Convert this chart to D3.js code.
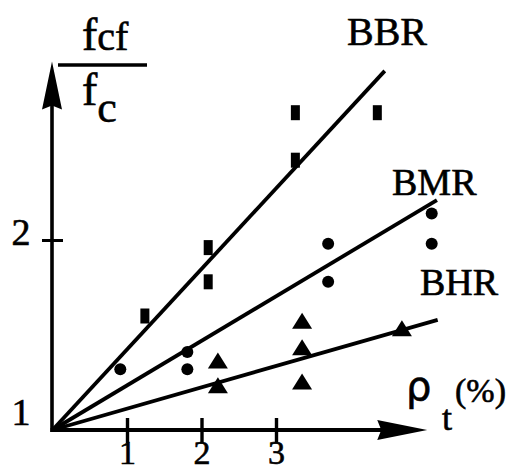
<!DOCTYPE html>
<html>
<head>
<meta charset="utf-8">
<script src="https://cdn.jsdelivr.net/npm/d3@7"></script>
<style>
  html, body { margin: 0; padding: 0; background: #fff; }
  svg text { font-family: "Liberation Serif", "DejaVu Serif", serif; fill: #000; stroke: #000; stroke-width: 0.6px; }
</style>
</head>
<body>
<svg id="chart" width="514" height="472"></svg>
<script>
// Reinforcement ratio (%) vs. strength ratio f_cf / f_c for three beam series
const xTicks = [1, 2, 3];
const yTicks = [2];
const yLabels = [1, 2];

const bbrX = [1.24, 2.09, 2.09, 3.26, 3.26, 4.36];
const bbrY = [1.60, 1.96, 1.78, 2.67, 2.42, 2.67];

const bmrX = [0.91, 1.81, 1.81, 3.70, 3.70, 5.09, 5.09];
const bmrY = [1.32, 1.41, 1.32, 1.98, 1.78, 2.14, 1.98];

const bhrX = [2.22, 2.22, 3.35, 3.35, 3.35, 4.69];
const bhrY = [1.36, 1.23, 1.57, 1.43, 1.25, 1.53];

// fitted trend lines, from the origin (0, 1) to their end points
const fitBBR = [[0, 1], [4.46, 2.89]];
const fitBMR = [[0, 1], [5.16, 2.21]];
const fitBHR = [[0, 1], [5.17, 1.58]];

const svg = d3.select("#chart");

const x = d3.scaleLinear().domain([0, 3]).range([52.5, 276]);
const y = d3.scaleLinear().domain([1, 2]).range([430, 240]);

const xEnd = 5.03;   // x axis arrow tip
const yEnd = 2.94;   // y axis arrow tip

// axes
svg.append("line")
  .attr("x1", x(0) - 2).attr("y1", y(1)).attr("x2", x(xEnd) - 40).attr("y2", y(1))
  .attr("stroke", "#000").attr("stroke-width", 3.8);
svg.append("line")
  .attr("x1", x(0) - 0.5).attr("y1", y(1) + 2).attr("x2", x(0) - 0.5).attr("y2", y(yEnd) + 40)
  .attr("stroke", "#000").attr("stroke-width", 3.6);

// arrow heads
const ax = x(xEnd), ay = y(1);
svg.append("path")
  .attr("d", `M${ax},${ay} L${ax - 50},${ay - 10} L${ax - 46},${ay} L${ax - 50},${ay + 10} Z`)
  .attr("fill", "#000");
const bx = x(0) - 0.5, by = y(yEnd);
svg.append("path")
  .attr("d", `M${bx},${by} L${bx - 10},${by + 48} L${bx},${by + 44} L${bx + 10},${by + 48} Z`)
  .attr("fill", "#000");

// x ticks and labels
const xAxis = svg.append("g")
  .attr("transform", `translate(0,${y(1)})`)
  .call(d3.axisBottom(x).tickValues(xTicks).tickFormat(d3.format("d")).tickSize(0));
xAxis.select(".domain").remove();
xAxis.selectAll(".tick line")
  .attr("y1", -12).attr("y2", 13)
  .attr("stroke", "#000").attr("stroke-width", 3.4);
xAxis.selectAll(".tick text")
  .attr("y", 34).attr("dy", 0)
  .style("font-family", "'Liberation Serif', serif")
  .style("font-size", "34px").attr("fill", "#000")
  .style("stroke", "#000").style("stroke-width", "0.6px");

// y ticks and labels
const yAxis = svg.append("g")
  .attr("transform", `translate(${x(0) - 0.5},0)`)
  .call(d3.axisLeft(y).tickValues(yTicks).tickFormat(() => "").tickSize(0));
yAxis.select(".domain").remove();
yAxis.selectAll(".tick line")
  .attr("x1", -10).attr("x2", 11)
  .attr("stroke", "#000").attr("stroke-width", 3);

svg.selectAll("text.ylab")
  .data(yLabels)
  .join("text")
  .attr("class", "ylab")
  .attr("x", 21)
  .attr("y", d => y(d) + (d === 1 ? -5 : 5))
  .attr("text-anchor", "middle")
  .style("font-size", "38px")
  .text(d => d);

// trend lines
const line = d3.line().x(d => x(d[0])).y(d => y(d[1]));
[fitBBR, fitBMR, fitBHR].forEach(f => {
  svg.append("path").attr("d", line(f))
    .attr("fill", "none").attr("stroke", "#000").attr("stroke-width", 3.8);
});

// BBR: small upright rectangles
svg.selectAll("rect.bbr")
  .data(d3.zip(bbrX, bbrY))
  .join("rect")
  .attr("class", "bbr")
  .attr("x", d => x(d[0]) - 4.5).attr("y", d => y(d[1]) - 7.5)
  .attr("width", 9).attr("height", 15)
  .attr("fill", "#000");

// BMR: dots
svg.selectAll("circle.bmr")
  .data(d3.zip(bmrX, bmrY))
  .join("circle")
  .attr("class", "bmr")
  .attr("cx", d => x(d[0])).attr("cy", d => y(d[1]))
  .attr("r", 6)
  .attr("fill", "#000");

// BHR: triangles
svg.selectAll("path.bhr")
  .data(d3.zip(bhrX, bhrY))
  .join("path")
  .attr("class", "bhr")
  .attr("d", d => {
    const cx = x(d[0]), cy = y(d[1]);
    return `M${cx},${cy - 9} L${cx + 10},${cy + 7} L${cx - 10},${cy + 7} Z`;
  })
  .attr("fill", "#000");

// series labels
svg.append("text").attr("x", 347).attr("y", 45).style("font-size", "40px").text("BBR");
svg.append("text").attr("x", 392).attr("y", 195).style("font-size", "38px").text("BMR");
svg.append("text").attr("x", 420).attr("y", 295).style("font-size", "38px").text("BHR");

// y axis title: f_cf / f_c
const num = svg.append("text").attr("x", 82).attr("y", 50).style("font-size", "46px");
num.append("tspan").text("f");
num.append("tspan").style("font-size", "40px").text("cf");
svg.append("line")
  .attr("x1", 58).attr("x2", 147).attr("y1", 65).attr("y2", 65)
  .attr("stroke", "#000").attr("stroke-width", 3.4);
const den = svg.append("text").attr("x", 82).attr("y", 105).style("font-size", "46px");
den.append("tspan").text("f");
den.append("tspan").attr("dy", 17).style("font-size", "44px").text("c");

// x axis title: rho_t (%)
svg.append("text").attr("x", 406).attr("y", 400)
  .style("font-family", "'DejaVu Sans', sans-serif").style("font-size", "40px").text("ρ");
svg.append("text").attr("x", 442).attr("y", 430).style("font-size", "36px").text("t");
svg.append("text").attr("x", 455).attr("y", 402).style("font-size", "34px").text("(%)");
</script>
</body>
</html>
